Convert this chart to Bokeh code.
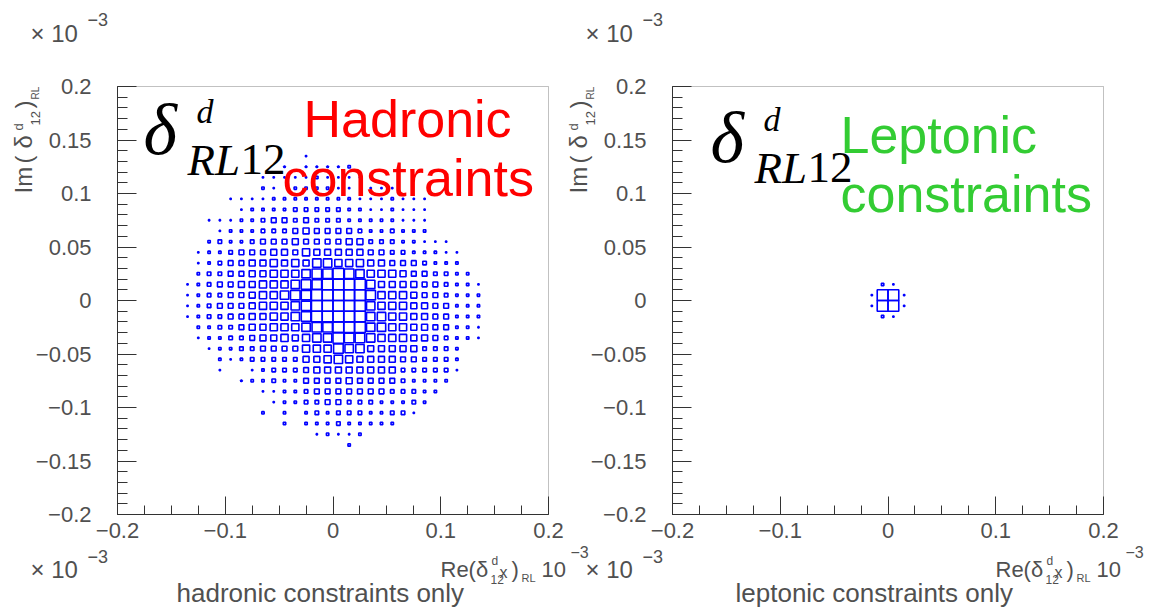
import math
from bokeh.plotting import figure
from bokeh.models import Range1d, FixedTicker, Label, ColumnDataSource, LinearAxis, BoxAnnotation
from bokeh.embed import file_html
from bokeh.resources import INLINE

# ---------------- data ----------------
# bin centres of the 2D histogram (only the populated part, 0.01 wide bins)
RE_CENTERS = [-0.135, -0.125, -0.115, -0.105, -0.095, -0.085, -0.075, -0.065, -0.055, -0.045,
              -0.035, -0.025, -0.015, -0.005, 0.005, 0.015, 0.025, 0.035, 0.045, 0.055,
              0.065, 0.075, 0.085, 0.095, 0.105, 0.115, 0.125, 0.135]
IM_CENTERS = [0.135, 0.125, 0.115, 0.105, 0.095, 0.085, 0.075, 0.065, 0.055, 0.045,
              0.035, 0.025, 0.015, 0.005, -0.005, -0.015, -0.025, -0.035, -0.045, -0.055,
              -0.065, -0.075, -0.085, -0.095, -0.105, -0.115, -0.125, -0.135]

# relative cell content (0..9), one string per Im row, one character per Re column
HADRONIC_LEVELS = [
    "0000000000010000000000000000",
    "0000000001011112000000000000",
    "0000000111112111100000000000",
    "0000000210222211011100000000",
    "0000111122222222111211100000",
    "0000012222333332211211100000",
    "0011122344343332222211100000",
    "0001222333454444322322200000",
    "0023223444544445533322111000",
    "0122344455465555544332221100",
    "0123445565657766655444322200",
    "0233445566678898766654433220",
    "1234455666788999975555443221",
    "1233445667889999986665443222",
    "1234445666789999976665544222",
    "1233445566789999977665544222",
    "0223345566678899977665544221",
    "0122334556567798876665543221",
    "0012233444466687755555333200",
    "0002123333355676555544333200",
    "0001001233345555555533333100",
    "0000012232244445444432222000",
    "0000000112234444444333220000",
    "0000000012233443332223200000",
    "0000000202023233322331000000",
    "0000000002022232222200000000",
    "0000000000001211200000000000",
    "0000000000000002000000000000",
]

LEPTONIC_RE = [-0.005, 0.005, -0.015, -0.005, 0.005, 0.015, -0.015, -0.005, 0.005, 0.015, -0.005, 0.005]
LEPTONIC_IM = [0.015, 0.015, 0.005, 0.005, 0.005, 0.005, -0.005, -0.005, -0.005, -0.005, -0.015, -0.015]
LEPTONIC_LEVEL = [2, 1, 1, 9, 9, 1, 1, 9, 9, 1, 2, 1]

X_TICKS = [-0.2, -0.1, 0.0, 0.1, 0.2]
X_TICK_LABELS = ["\u22120.2", "\u22120.1", "0", "0.1", "0.2"]
Y_TICKS = [-0.2, -0.15, -0.1, -0.05, 0.0, 0.05, 0.1, 0.15, 0.2]
Y_TICK_LABELS = ["\u22120.2", "\u22120.15", "\u22120.1", "\u22120.05", "0", "0.05", "0.1", "0.15", "0.2"]

# ---------------- layout constants (pixels) ----------------
W, H = 1153, 614
FRAME_W, FRAME_H = 431, 428
TOP = 86
LEFT1, LEFT2 = 117, 672
SX = FRAME_W / 0.4
SY = FRAME_H / 0.4
CELL = 0.01
MAXLEVEL = 9.0
GREY = "#505050"
AXC = "#333333"


def grid_source(levels):
    xs, ys, ws = [], [], []
    for r, line in enumerate(levels):
        for c, ch in enumerate(line):
            v = int(ch)
            if v > 0:
                xs.append(RE_CENTERS[c])
                ys.append(IM_CENTERS[r])
                ws.append(CELL * v / MAXLEVEL)
    return ColumnDataSource(dict(x=xs, y=ys, w=ws))


def sparse_source(xs, ys, levels):
    return ColumnDataSource(dict(x=xs, y=ys, w=[CELL * v / MAXLEVEL for v in levels]))


def xr(left):
    return Range1d(-0.2 - left / SX, -0.2 + (W - left) / SX)


p = figure(width=W, height=H, x_range=xr(LEFT1),
           y_range=Range1d(0.2 - (H - TOP) / SY, 0.2 + TOP / SY),
           output_backend="svg", toolbar_location=None,
           min_border_left=0, min_border_right=0, min_border_top=0, min_border_bottom=0)
p.extra_x_ranges = {"p2": xr(LEFT2)}
p.grid.visible = False
p.outline_line_color = None
p.background_fill_color = "white"
p.border_fill_color = "white"

minor_x = [round(-0.2 + 0.025 * k, 4) for k in range(17)]
minor_y = [round(-0.2 + 0.01 * k, 4) for k in range(41)]


def style_axis(ax, horizontal):
    ax.fixed_location = -0.2
    ax.bounds = (-0.2, 0.2)
    if horizontal:
        ax.ticker = FixedTicker(ticks=X_TICKS, minor_ticks=minor_x)
        ax.major_label_overrides = {t: s for t, s in zip(X_TICKS, X_TICK_LABELS)}
        ax.major_tick_in = 18
        ax.minor_tick_in = 9
        ax.major_label_standoff = 8
    else:
        ax.ticker = FixedTicker(ticks=Y_TICKS, minor_ticks=minor_y)
        ax.major_label_overrides = {t: s for t, s in zip(Y_TICKS, Y_TICK_LABELS)}
        ax.major_tick_in = 19
        ax.minor_tick_in = 10
        ax.major_label_standoff = 26
    ax.axis_line_color = AXC
    ax.major_tick_line_color = AXC
    ax.minor_tick_line_color = AXC
    ax.major_tick_out = 0
    ax.minor_tick_out = 0
    ax.major_label_text_font = "Liberation Sans"
    ax.major_label_text_font_size = "22px"
    ax.major_label_text_color = GREY


style_axis(p.xaxis[0], True)
style_axis(p.yaxis[0], False)
ax2x = LinearAxis(x_range_name="p2")
style_axis(ax2x, True)
p.add_layout(ax2x, "below")
ax2y = LinearAxis(x_range_name="p2")
style_axis(ax2y, False)
p.add_layout(ax2y, "left")

for rn in ("default", "p2"):
    p.add_layout(BoxAnnotation(left=-0.2, right=0.2, bottom=-0.2, top=0.2, x_range_name=rn,
                               fill_alpha=0, line_color=AXC, line_width=1))

p.rect(x="x", y="y", width="w", height="w", source=grid_source(HADRONIC_LEVELS),
       fill_color=None, line_color="#0000ff", line_width=1.6)
p.rect(x="x", y="y", width="w", height="w", source=sparse_source(LEPTONIC_RE, LEPTONIC_IM, LEPTONIC_LEVEL),
       fill_color=None, line_color="#0000ff", line_width=1.6, x_range_name="p2")


def lab(rn, fl, px, py, text, size, color=GREY, font="Liberation Sans", style="normal", angle=0.0):
    k = 0.40 * size
    ax_ = px - k * math.sin(angle)
    ay_ = py - k * math.cos(angle)
    p.add_layout(Label(x=-0.2, y=0.2, x_range_name=rn,
                       x_offset=ax_ - fl, y_offset=-(ay_ - TOP),
                       text=text, text_font_size=f"{size}px", text_color=color,
                       text_font=font, text_font_style=style, angle=angle,
                       text_align="left", text_baseline="alphabetic"))


def decorate(rn, fl, subtitle, sub_x, name1, name2, ncolor, name_pos, math_dx, math_dy):
    d = fl - LEFT1
    lab(rn, fl, 30 + d, 43, "\u00d7 10", 24)
    lab(rn, fl, 87 + d, 26, "\u22123", 18)
    lab(rn, fl, 30 + d, 579, "\u00d7 10", 24)
    lab(rn, fl, 87 + d, 563, "\u22123", 18)
    a = math.pi / 2
    lab(rn, fl, 33 + d, 193, "Im", 24, angle=a)
    lab(rn, fl, 33 + d, 163, "(", 24, angle=a)
    lab(rn, fl, 33 + d, 148, "\u03b4", 24, angle=a)
    lab(rn, fl, 23 + d, 130, "d", 13, angle=a)
    lab(rn, fl, 40 + d, 125, "12", 13, angle=a)
    lab(rn, fl, 33 + d, 108, ")", 24, angle=a)
    lab(rn, fl, 39 + d, 99, "RL", 10, angle=a)
    lab(rn, fl, 440 + d, 578, "Re(\u03b4", 22)
    lab(rn, fl, 491 + d, 565, "d", 12)
    lab(rn, fl, 490 + d, 584, "12", 12)
    lab(rn, fl, 499 + d, 578, "x", 16)
    lab(rn, fl, 511 + d, 578, ")", 22)
    lab(rn, fl, 521 + d, 582, "RL", 11)
    lab(rn, fl, 541 + d, 578, "10", 22)
    lab(rn, fl, 570 + d, 558, "\u22123", 16)
    lab(rn, fl, sub_x, 603, subtitle, 26)
    mx, my = 143 + d + math_dx, math_dy
    lab(rn, fl, mx, 158 + my, "\u03b4", 72, color="black", font="Liberation Serif", style="italic")
    lab(rn, fl, mx + 53, 125 + my, "d", 34, color="black", font="Liberation Serif", style="italic")
    lab(rn, fl, mx + 44, 177 + my, "RL", 45, color="black", font="Liberation Serif", style="italic")
    lab(rn, fl, mx + 97, 177 + my, "12", 45, color="black", font="Liberation Serif")
    (x1, y1), (x2, y2) = name_pos
    lab(rn, fl, x1, y1, name1, 52, color=ncolor)
    lab(rn, fl, x2, y2, name2, 52, color=ncolor)


decorate("default", LEFT1, "hadronic constraints only", 176, "Hadronic", "constraints", "#ff0000",
         ((303, 139), (282, 198)), 0, 0)
decorate("p2", LEFT2, "leptonic constraints only", 735, "Leptonic", "constraints", "#33cc33",
         ((840, 155), (840, 214)), 12, 8)

open("out.html", "w").write(file_html(p, INLINE))
